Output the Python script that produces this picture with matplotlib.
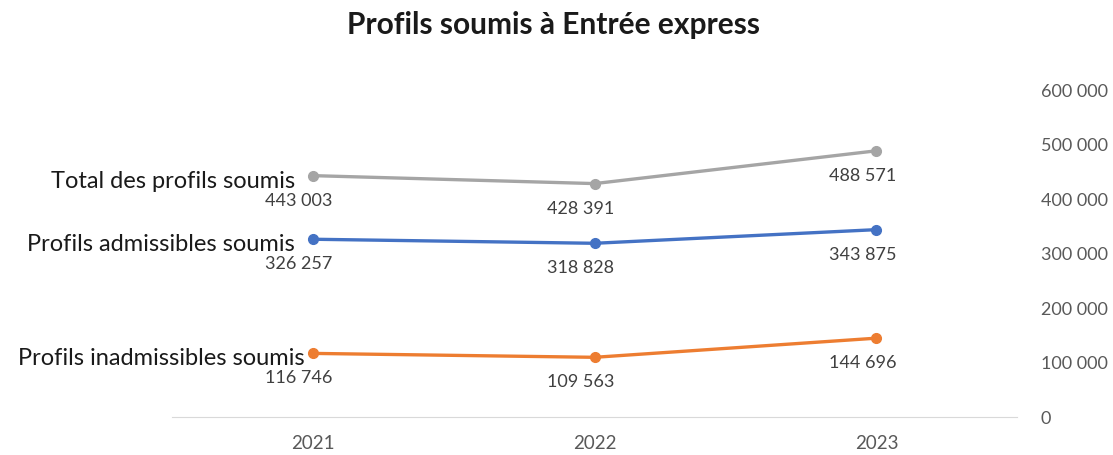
import matplotlib
matplotlib.use('Agg')
import matplotlib.pyplot as plt

plt.rcParams['font.family'] = ['Lato', 'DejaVu Sans']

years = ['2021', '2022', '2023']
total = [443003, 428391, 488571]
admissibles = [326257, 318828, 343875]
inadmissibles = [116746, 109563, 144696]
series_names = ['Total des profils soumis', 'Profils admissibles soumis',
                'Profils inadmissibles soumis']
colors = ['#A5A5A5', '#4472C4', '#ED7D31']
yticks = [0, 100000, 200000, 300000, 400000, 500000, 600000]

# horizontal nudge (points) of each series name, left of the first marker
name_dx = [-13, -13, -6]


def fmt(v):
    return '{:,}'.format(v).replace(',', ' ')


fig = plt.figure(figsize=(11.13, 4.55), dpi=100)
ax = fig.add_axes([0.1545, 0.0835, 0.7595, 0.7185])

x = list(range(len(years)))
for vals, name, col, dx in zip([total, admissibles, inadmissibles], series_names,
                               colors, name_dx):
    ax.plot(x, vals, color=col, lw=2.4, marker='o', ms=7, solid_capstyle='round')
    for xi, v in zip(x, vals):
        ax.annotate(fmt(v), (xi, v), xytext=(-10, -18), textcoords='offset points',
                    ha='center', va='center', fontsize=13, color='#404040')
    ax.annotate(name, (x[0], vals[0]), xytext=(dx, -4), textcoords='offset points',
                ha='right', va='center', fontsize=17, color='#1a1a1a')

ax.set_xlim(-0.5, 2.5)
ax.set_ylim(0, 600000)
ax.set_xticks(x)
ax.set_xticklabels(years, fontsize=13.5, color='#595959')
ax.set_yticks(yticks)
ax.set_yticklabels([fmt(t) for t in yticks], fontsize=13, color='#595959')
ax.yaxis.tick_right()
ax.tick_params(axis='both', length=0)
ax.tick_params(axis='y', pad=17)
ax.tick_params(axis='x', pad=13)
for lab in ax.get_yticklabels():
    lab.set_horizontalalignment('left')

for s in ['top', 'left', 'right']:
    ax.spines[s].set_visible(False)
ax.spines['bottom'].set_color('#D9D9D9')

fig.text(0.497, 0.945, 'Profils soumis à Entrée express', ha='center', va='center',
         fontsize=21.5, fontweight='bold', color='#1a1a1a')

fig.savefig('out.png', dpi=100)
